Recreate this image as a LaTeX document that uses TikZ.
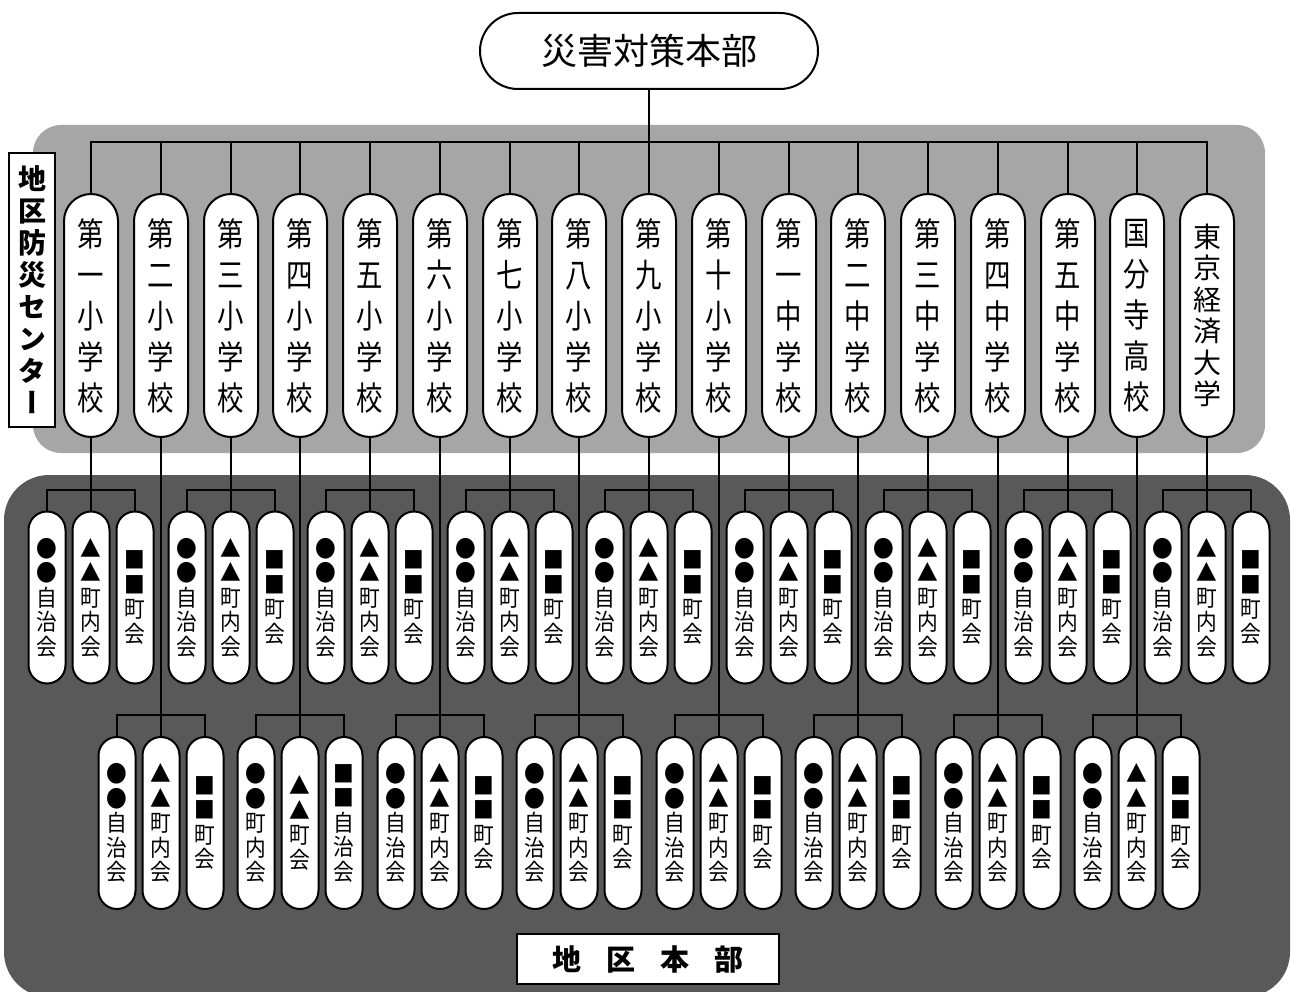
\documentclass[tikz,border=0pt]{standalone}
\usepackage{fontspec}
\newfontfamily\jp{Noto Sans CJK JP}
\newfontfamily\jpn[FakeStretch=0.8]{Noto Sans CJK JP}
\newfontfamily\jpt[FakeStretch=0.9]{Noto Sans CJK JP}
\newfontfamily\jpv[RawFeature=+vert]{Noto Sans CJK JP}
\definecolor{lightpanel}{HTML}{A6A6A6}
\definecolor{darkpanel}{HTML}{595959}
\def\tA{●\\●\\自\\治\\会}
\def\tB{▲\\▲\\町\\内\\会}
\def\tC{■\\■\\町\\会}
\begin{document}
\begin{tikzpicture}[x=1pt,y=-1pt,
  conn/.style={line width=2pt},
  school/.style={draw, fill=white, line width=2pt, rounded corners=27pt,
    minimum width=54pt, minimum height=243pt, inner sep=0pt, align=center,
    font=\jpn\fontsize{33}{41}\selectfont},
  town/.style={draw, fill=white, line width=2pt, rounded corners=18.5pt,
    minimum width=37pt, minimum height=172pt, inner sep=0pt, align=center,
    font=\jpt\fontsize{23}{24.5}\selectfont},
  plainbox/.style={draw, fill=white, line width=2pt, inner sep=0pt, align=center}]
\useasboundingbox (0,0) rectangle (1293,992);
% panels
\fill[lightpanel, rounded corners=28pt] (33,125) rectangle (1265,453);
\fill[darkpanel, rounded corners=45pt] (4,475) rectangle (1290,997);
% top
\node[plainbox, rounded corners=38pt, minimum width=338pt, minimum height=76pt,
  font=\jp\fontsize{36}{40}\selectfont] (top) at (649,51) {災害対策本部};
% side label
\node[plainbox, minimum width=46pt, minimum height=274pt,
  font=\jpv\bfseries\fontsize{28}{32}\selectfont] (ctr) at (32,290)
  {地\\区\\防\\災\\セ\\ン\\タ\\ー};
% bottom label
\node[plainbox, minimum width=262pt, minimum height=50pt,
  font=\jp\bfseries\fontsize{29}{32}\selectfont] (hq) at (648,959)
  {地\hspace{25pt}区\hspace{25pt}本\hspace{25pt}部};
% schools
\foreach \txt [count=\i] in {{第\\一\\小\\学\\校},{第\\二\\小\\学\\校},{第\\三\\小\\学\\校},
  {第\\四\\小\\学\\校},{第\\五\\小\\学\\校},{第\\六\\小\\学\\校},{第\\七\\小\\学\\校},
  {第\\八\\小\\学\\校},{第\\九\\小\\学\\校},{第\\十\\小\\学\\校},{第\\一\\中\\学\\校},
  {第\\二\\中\\学\\校},{第\\三\\中\\学\\校},{第\\四\\中\\学\\校},{第\\五\\中\\学\\校},
  {国\\分\\寺\\高\\校}}{
  \pgfmathsetmacro\xx{round(91+69.75*(\i-1))}
  \node[school] (s\i) at (\xx,315.5) {\txt};
}
\node[school, font=\jp\fontsize{28}{31.5}\selectfont] (s17) at (1207,315.5)
  {東\\京\\経\\済\\大\\学};
% coordinates of the buses
\coordinate (b0) at (0,142);
\coordinate (r1) at (0,490);
\coordinate (r2) at (0,715);
% top bus
\draw[conn] (s1.north) -- (s1.north |- b0) -- (s17.north |- b0) -- (s17.north);
\foreach \i in {2,...,16} \draw[conn] (s\i.north) -- (s\i.north |- b0);
\draw[conn] (top.south) -- (top.south |- b0);
% row 1 groups
\foreach \i in {1,3,...,17}{
  \pgfmathsetmacro\xx{round(91+69.75*(\i-1))}
  \node[town] (a\i-1) at (\xx-44,597.5) {\tA};
  \node[town] (a\i-2) at (\xx,597.5) {\tB};
  \node[town] (a\i-3) at (\xx+44,597.5) {\tC};
  \draw[conn] (s\i.south) -- (a\i-2.north);
  \draw[conn] (a\i-1.north) -- (a\i-1.north |- r1) -- (a\i-3.north |- r1) -- (a\i-3.north);
}
% row 2 groups
\foreach \i/\ta/\tb/\tc in {2/\tA/\tB/\tC, 4/{●\\●\\町\\内\\会}/{▲\\▲\\町\\会}/{■\\■\\自\\治\\会},
  6/\tA/\tB/\tC, 8/\tA/\tB/\tC, 10/\tA/\tB/\tC, 12/\tA/\tB/\tC, 14/\tA/\tB/\tC, 16/\tA/\tB/\tC}{
  \pgfmathsetmacro\xx{round(91+69.75*(\i-1))}
  \node[town] (b\i-1) at (\xx-44,823) {\ta};
  \node[town] (b\i-2) at (\xx,823) {\tb};
  \node[town] (b\i-3) at (\xx+44,823) {\tc};
  \draw[conn] (s\i.south) -- (b\i-2.north);
  \draw[conn] (b\i-1.north) -- (b\i-1.north |- r2) -- (b\i-3.north |- r2) -- (b\i-3.north);
}
\end{tikzpicture}
\end{document}
